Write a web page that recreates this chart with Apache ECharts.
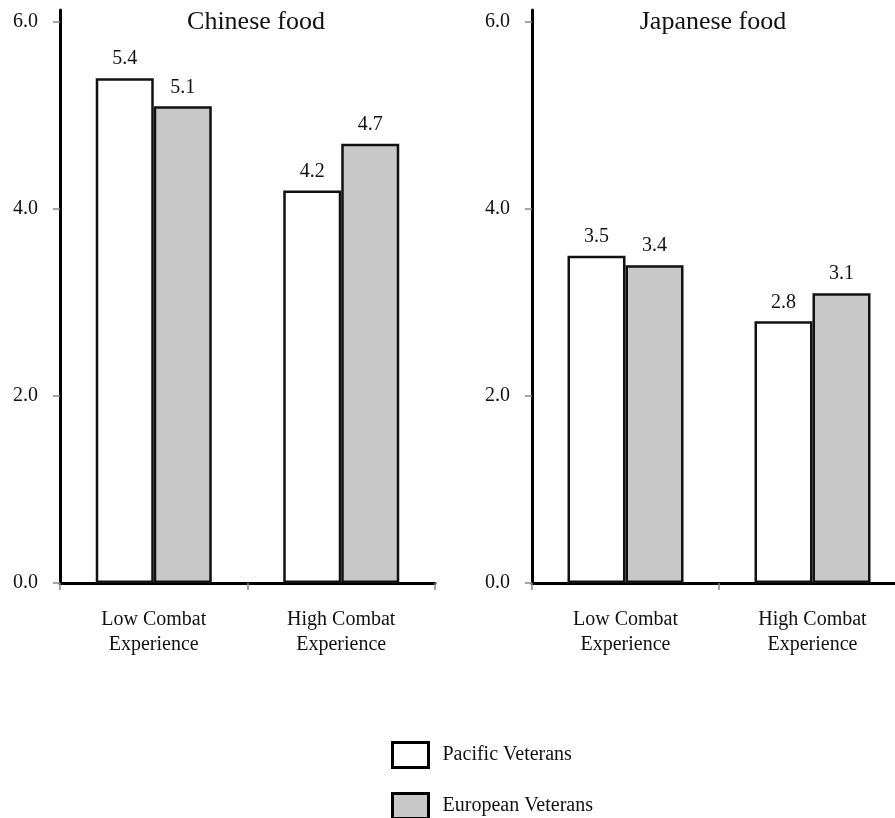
<!DOCTYPE html>
<html>
<head>
<meta charset="utf-8">
<script src="https://cdn.jsdelivr.net/npm/echarts@6/dist/echarts.min.js"></script>
<style>
    html, body { margin: 0; padding: 0; background: #fff; }
    #chart { width: 895px; height: 818px; }
</style>
</head>
<body>
<div id="chart"></div>
<script>
// 数据
const categories = ['Low Combat\nExperience', 'High Combat\nExperience'];
const panelTitles = ['Chinese food', 'Japanese food'];
const seriesNames = ['Pacific Veterans', 'European Veterans'];
const chinesePacific = [5.4, 4.2];
const chineseEuropean = [5.1, 4.7];
const japanesePacific = [3.5, 2.8];
const japaneseEuropean = [3.4, 3.1];
const yTicks = [0, 2, 4, 6];

const font = 'Liberation Serif';
const fillColors = ['#ffffff', '#c8c8c8'];

const grids = [
    { left: 60, top: 10, width: 375, height: 573, outerBoundsMode: 'none', containLabel: false },
    { left: 532, top: 10, width: 374, height: 573, outerBoundsMode: 'none', containLabel: false },
];

const makeX = (i) => ({
    type: 'category',
    gridIndex: i,
    data: categories,
    axisLine: { lineStyle: { color: '#000', width: 3 } },
    axisTick: { show: true, interval: 0, alignWithLabel: false, length: 7, lineStyle: { color: '#888', width: 1.5 } },
    axisLabel: {
        margin: 24,
        fontFamily: font,
        fontSize: 20,
        lineHeight: 25,
        color: '#111',
    },
});

const makeY = (i) => ({
    type: 'value',
    gridIndex: i,
    min: 0,
    max: 6.13,
    interval: 2,
    splitLine: { show: false },
    axisLine: { show: true, lineStyle: { color: '#000', width: 3 } },
    axisTick: { show: true, length: 7, customValues: yTicks, lineStyle: { color: '#888', width: 1.5 } },
    axisLabel: {
        margin: 22,
        customValues: yTicks,
        formatter: (v) => v.toFixed(1),
        fontFamily: font,
        fontSize: 20,
        color: '#111',
    },
});

const makeBar = (name, data, i, colorIdx) => ({
    name: name,
    type: 'bar',
    xAxisIndex: i,
    yAxisIndex: i,
    data: data,
    barWidth: 58,
    barGap: 0,
    itemStyle: {
        color: fillColors[colorIdx],
        borderColor: '#111',
        borderWidth: 2.5,
    },
    label: {
        show: true,
        position: 'top',
        distance: 9,
        formatter: (p) => p.value.toFixed(1),
        fontFamily: font,
        fontSize: 20,
        color: '#111',
    },
});

const makeLegend = (name, top) => ({
    left: 386,
    top: top,
    itemWidth: 36,
    itemHeight: 25,
    icon: 'rect',
    data: [name],
    itemStyle: { borderColor: '#000', borderWidth: 3 },
    textStyle: {
        fontFamily: font,
        fontSize: 20,
        color: '#111',
        padding: [0, 0, 0, 9],
    },
});

const myChart = echarts.init(document.getElementById('chart'));
myChart.setOption({
    animation: false,
    backgroundColor: '#fff',
    title: [
        { text: panelTitles[0], left: 251, top: 4, textAlign: 'center',
          textStyle: { fontFamily: font, fontSize: 26, fontWeight: 'normal', color: '#111' } },
        { text: panelTitles[1], left: 708, top: 4, textAlign: 'center',
          textStyle: { fontFamily: font, fontSize: 26, fontWeight: 'normal', color: '#111' } },
    ],
    legend: [makeLegend(seriesNames[0], 736), makeLegend(seriesNames[1], 787)],
    grid: grids,
    xAxis: [makeX(0), makeX(1)],
    yAxis: [makeY(0), makeY(1)],
    series: [
        makeBar(seriesNames[0], chinesePacific, 0, 0),
        makeBar(seriesNames[1], chineseEuropean, 0, 1),
        makeBar(seriesNames[0], japanesePacific, 1, 0),
        makeBar(seriesNames[1], japaneseEuropean, 1, 1),
    ],
});
</script>
</body>
</html>
